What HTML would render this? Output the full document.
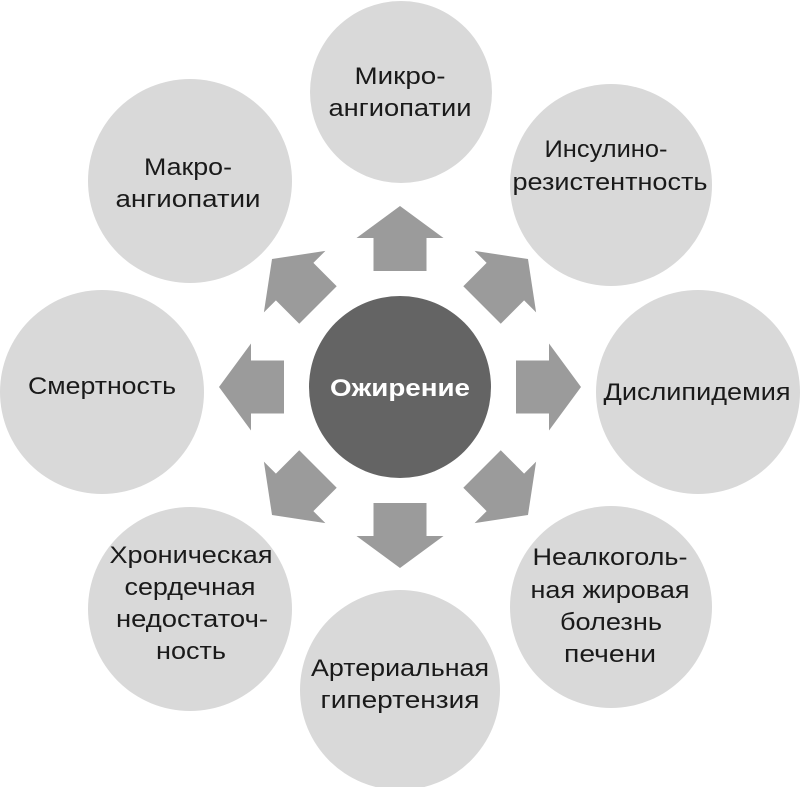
<!DOCTYPE html>
<html><head><meta charset="utf-8"><style>
html,body{margin:0;padding:0;background:#fff;}
svg{display:block;}
text{font-family:"Liberation Sans",sans-serif;font-size:24px;fill:#1a1a1a;text-anchor:middle;}
</style></head><body>
<svg width="800" height="787" viewBox="0 0 800 787" xmlns="http://www.w3.org/2000/svg">
<g fill="#d9d9d9">
<circle cx="401" cy="92" r="91"/>
<circle cx="611" cy="185" r="101"/>
<circle cx="698" cy="392" r="102"/>
<circle cx="611" cy="607" r="101"/>
<circle cx="400" cy="690" r="100"/>
<circle cx="190" cy="609" r="102"/>
<circle cx="102" cy="392" r="102"/>
<circle cx="190" cy="181" r="102"/>
</g>
<circle cx="400" cy="387" r="91" fill="#646464"/>
<defs>
<polygon id="ar" points="-26.5,-116 26.5,-116 26.5,-149 43.5,-149 0,-181 -43.5,-149 -26.5,-149" fill="#9b9b9b"/>
</defs>
<g transform="translate(400,387)">
<use href="#ar"/>
<use href="#ar" transform="rotate(45)"/>
<use href="#ar" transform="rotate(90)"/>
<use href="#ar" transform="rotate(135)"/>
<use href="#ar" transform="rotate(180)"/>
<use href="#ar" transform="rotate(225)"/>
<use href="#ar" transform="rotate(270)"/>
<use href="#ar" transform="rotate(315)"/>
</g>
<text x="400" y="396" textLength="140" lengthAdjust="spacingAndGlyphs" style="fill:#fff;font-weight:bold;font-size:24px">Ожирение</text>
<text x="400" y="84" textLength="91" lengthAdjust="spacingAndGlyphs">Микро-</text>
<text x="400" y="116" textLength="143" lengthAdjust="spacingAndGlyphs">ангиопатии</text>
<text x="606" y="157" textLength="123" lengthAdjust="spacingAndGlyphs">Инсулино-</text>
<text x="610" y="190" textLength="195" lengthAdjust="spacingAndGlyphs">резистентность</text>
<text x="697" y="400" textLength="187" lengthAdjust="spacingAndGlyphs">Дислипидемия</text>
<text x="610" y="565" textLength="155" lengthAdjust="spacingAndGlyphs">Неалкоголь-</text>
<text x="610" y="598" textLength="159" lengthAdjust="spacingAndGlyphs">ная жировая</text>
<text x="611" y="630" textLength="102" lengthAdjust="spacingAndGlyphs">болезнь</text>
<text x="610" y="662" textLength="92" lengthAdjust="spacingAndGlyphs">печени</text>
<text x="400" y="676" textLength="178" lengthAdjust="spacingAndGlyphs">Артериальная</text>
<text x="400" y="708" textLength="159" lengthAdjust="spacingAndGlyphs">гипертензия</text>
<text x="191" y="563" textLength="163" lengthAdjust="spacingAndGlyphs">Хроническая</text>
<text x="190" y="595" textLength="131" lengthAdjust="spacingAndGlyphs">сердечная</text>
<text x="192" y="627" textLength="152" lengthAdjust="spacingAndGlyphs">недостаточ-</text>
<text x="191" y="659" textLength="70" lengthAdjust="spacingAndGlyphs">ность</text>
<text x="102" y="394" textLength="148" lengthAdjust="spacingAndGlyphs">Смертность</text>
<text x="188" y="175" textLength="88" lengthAdjust="spacingAndGlyphs">Макро-</text>
<text x="188" y="207" textLength="145" lengthAdjust="spacingAndGlyphs">ангиопатии</text>
</svg>
</body></html>
